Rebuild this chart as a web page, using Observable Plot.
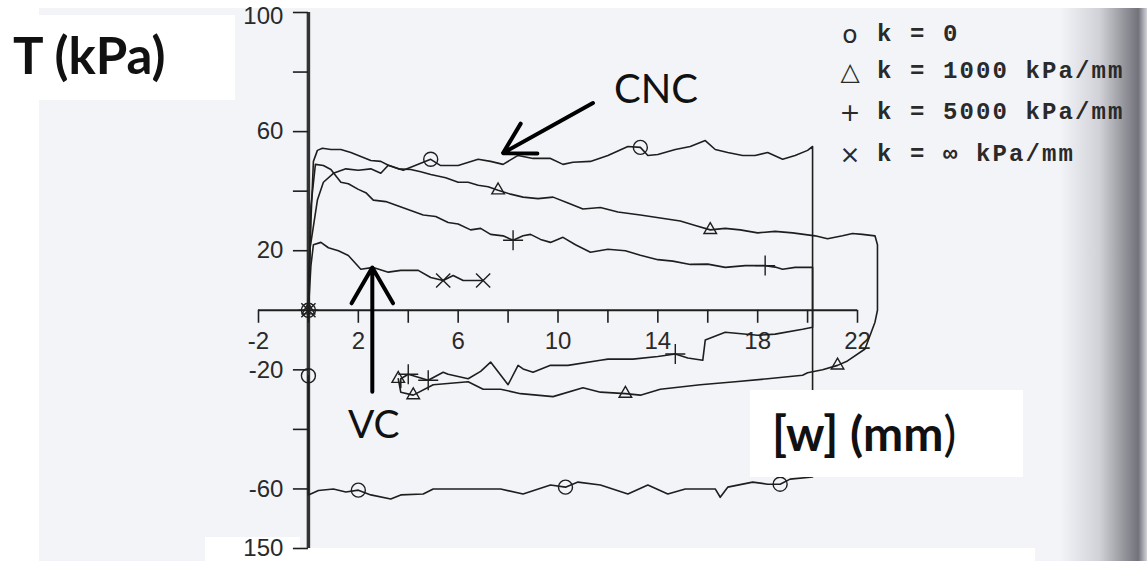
<!DOCTYPE html>
<html><head><meta charset="utf-8">
<script src="https://cdn.jsdelivr.net/npm/d3@7"></script>
<script src="https://cdn.jsdelivr.net/npm/@observablehq/plot@0.6"></script>
<style>
html,body{margin:0;padding:0;background:#fff;}
#wrap{position:relative;width:1147px;height:561px;overflow:hidden;background:#fff;}
.layer{position:absolute;}
.lab{position:absolute;white-space:pre;color:#111;line-height:1;}
.leg{position:absolute;white-space:pre;font-family:"Liberation Mono","DejaVu Sans Mono",monospace;font-weight:bold;font-size:24px;line-height:24px;letter-spacing:2.1px;color:#2a2a2a;}
.sym{position:absolute;font-family:"DejaVu Sans",sans-serif;font-size:25px;line-height:24px;color:#2a2a2a;width:22px;text-align:center;}
</style></head><body>
<div id="wrap">
  <div class="layer" style="left:39px;top:8px;width:1108px;height:553px;background:#f3f4f8"></div>
  <div class="layer" style="left:1060px;top:8px;width:87px;height:553px;background:linear-gradient(to right, rgba(90,90,100,0) 0%, rgba(90,90,100,0.22) 45%, rgba(70,70,80,0.75) 90%, rgba(150,150,160,0.35) 100%)"></div>
  <div class="layer" style="left:205px;top:548px;width:830px;height:13px;background:#fff"></div>
  <div class="layer" style="left:205px;top:537px;width:95px;height:24px;background:#fff"></div>
  <div id="chart" class="layer" style="left:0;top:0"></div>
  <div class="layer" style="left:39px;top:15px;width:196px;height:85px;background:#fff"></div>
  <div class="lab" style="left:13px;top:29px;font-family:Lato,'Open Sans',sans-serif;font-weight:bold;font-size:51px;">T (kPa)</div>
  <div class="layer" style="left:750px;top:390px;width:273px;height:87px;background:#fff"></div>
  <div class="lab" style="left:772px;top:409px;font-family:Lato,'Open Sans',sans-serif;font-weight:bold;font-size:48px;">[w] (mm<span style="font-weight:normal">)</span></div>
  <div class="lab" style="left:614px;top:68px;font-family:Lato,'Open Sans',sans-serif;font-size:40px;">CNC</div>
  <div class="lab" style="left:348px;top:404px;font-family:Lato,'Open Sans',sans-serif;font-size:39px;">VC</div>
  <div id="legend"></div>
</div>
<script>
// ---- data (w in mm, T in kPa) ----
const seriesKeys = ["k = 0", "k = 1000 kPa/mm", "k = 5000 kPa/mm", "k = ∞ kPa/mm"];
const legendSymbols = ["o", "△", "+", "×"];

const curveK0 = [[0,0],[0.05,20],[0.16,26],[0.36,37],[0.6,43],[1.0,46],[1.5,47.5],[2.0,47],[2.5,47.5],[2.9,46],[3.2,48.7],[3.8,47],[4.4,49],[4.9,50.7],[5.3,48.6],[6.0,48.6],[6.8,50.7],[7.3,50],[7.8,49],[8.4,52],[9.0,51],[9.7,51],[10.2,49],[10.6,49.7],[11.3,50],[12.0,52],[12.8,55],[13.3,54.7],[13.6,52],[14.0,52.3],[14.7,54],[15.3,55],[15.9,57],[16.3,54],[16.8,53],[17.4,52],[17.9,52],[18.4,53],[19.0,50.7],[19.5,52],[20.0,53.7],[20.2,55],[20.2,-56],[19.3,-56.7],[18.9,-58.4],[18.4,-58.4],[17.8,-57.7],[16.8,-59.4],[16.5,-62.8],[16.3,-60],[15.1,-60],[14.4,-61.7],[13.6,-58.7],[12.8,-61.7],[11.7,-58.7],[10.8,-57.7],[10.3,-59.4],[9.7,-58.7],[8.6,-61.7],[7.7,-60],[6.0,-60],[5.0,-60],[4.6,-61.7],[3.7,-62],[3.3,-63.4],[2.5,-62],[2.0,-60.4],[1.5,-61],[1.0,-60],[0.4,-60.5],[0,-62],[0,-22]];
const curveK1000 = [[0,0],[0.1,30],[0.2,50],[0.36,53.7],[0.56,54.4],[0.9,54],[1.3,54],[1.7,53],[2.0,52],[2.5,50.3],[2.9,50],[3.2,48.7],[3.6,47.5],[4.1,47.3],[4.5,46.5],[4.9,45.6],[5.5,44.5],[6.0,43],[6.4,43],[6.8,42],[7.2,41.5],[7.6,40.3],[8.1,39],[8.6,38],[9.2,37.5],[9.8,38],[10.4,36],[11.0,34],[11.7,34.5],[12.4,33],[13.3,32],[14.1,31],[14.9,30],[15.5,28.5],[16.1,27],[16.7,27.5],[17.3,27],[18.0,26],[18.7,26.5],[19.4,26],[20.3,25],[20.8,24],[21.4,25],[21.8,25.8],[22.2,25.5],[22.7,25],[22.8,22],[22.8,0],[22.7,-4],[22.3,-13],[21.6,-17],[21.2,-18.5],[20.6,-20],[20.0,-21],[19.8,-21.8],[18.4,-23],[17.1,-24],[15.7,-25],[14.1,-26.5],[13.3,-28.5],[12.7,-28],[11.7,-27.5],[11.0,-26],[9.8,-29],[8.5,-28],[7.7,-26.5],[7.0,-26.5],[6.4,-24],[5.0,-25],[4.2,-28.5],[3.7,-27.5],[3.6,-23]];
const curveK5000 = [[0,0],[0.1,35],[0.28,49],[0.6,48.6],[0.9,47.3],[1.3,43],[1.6,42.5],[2.0,40.6],[2.3,39.5],[2.6,37],[3.1,36.5],[3.6,35],[4.1,33.5],[4.6,32],[5.1,31.5],[5.6,29.5],[6.0,29],[6.5,27],[6.9,27.5],[7.3,25.5],[7.8,25],[8.2,23.5],[8.6,25],[8.9,25.5],[9.3,23.8],[9.7,22.8],[10.2,24.5],[10.7,22],[11.3,19.5],[12.0,20.5],[12.7,20],[13.3,18.5],[14.0,17],[14.6,16.5],[15.3,15.4],[16.0,15.5],[16.7,14.4],[17.5,15],[18.3,15],[18.7,14.5],[19.0,13.8],[19.5,14.4],[20.2,14.4],[20.2,-5.7],[19.8,-6.4],[18.7,-8],[18.0,-8.4],[16.7,-7.4],[15.9,-10],[15.8,-16.8],[15.2,-16],[14.7,-14.7],[14.0,-15.5],[13.0,-16.4],[12.0,-16.4],[11.7,-16.8],[10.4,-18.5],[9.7,-18.5],[9.0,-20.8],[8.6,-19.7],[8.4,-18.5],[8.0,-25],[7.3,-17.4],[6.9,-20.5],[6.4,-23],[5.6,-21.5],[5.4,-20.8],[4.8,-23.5],[4.4,-22.5],[4.0,-21.5],[3.7,-23],[3.7,-26]];
const curveKInf = [[0,0],[0.1,15],[0.2,22],[0.5,22.8],[0.8,21],[1.2,20],[1.6,18.4],[2.1,13.8],[2.6,14.4],[3.2,12.8],[3.7,13.4],[4.4,13.4],[4.9,11],[5.4,10],[5.8,11.7],[6.2,10],[7.0,10]];

const markK0 = [[0,0],[4.9,50.7],[13.3,54.7],[2.0,-60.4],[10.3,-59.4],[18.9,-58.4],[0,-22]];
const markK1000 = [[0,0],[7.6,40.3],[16.1,27],[21.2,-18.5],[12.7,-28],[4.2,-28.5],[3.6,-23]];
const markK5000 = [[0,0],[8.2,23.5],[18.3,15],[14.7,-14.7],[4.0,-21.5],[4.8,-23.5]];
const markKInf = [[0,0],[5.4,10],[7.0,10]];

const xTicks = [-2,0,2,4,6,8,10,12,14,16,18,20,22];
const xTickLabels = ["-2","","2","","6","","10","","14","","18","","22"];
const yTicks = [100,80,60,40,20,-20,-40,-60,-80];
const yTickLabels = ["100","","60","","20","-20","","-60","150"];

// annotation arrows (data units)
const arrowNames = ["CNC","VC"];
const arrowW1 = [11.4, 2.56], arrowT1 = [69.6, -27.4];
const arrowW2 = [7.8, 2.56],  arrowT2 = [52.8, 14.4];

// ---- build ----
const curves = [curveK0, curveK1000, curveK5000, curveKInf];
const marks = [markK0, markK1000, markK5000, markKInf];
const lineRows = curves.flatMap((c, i) => c.map(([w, T]) => ({w, T, k: seriesKeys[i]})));
const markRows = marks.map((m, i) => m.map(([w, T]) => ({w, T, k: seriesKeys[i]})));
const arrows = arrowNames.map((n, i) => ({n, w1: arrowW1[i], t1: arrowT1[i], w2: arrowW2[i], t2: arrowT2[i]}));
const xFmt = new Map(xTicks.map((t, i) => [t, xTickLabels[i]]));
const yFmt = new Map(yTicks.map((t, i) => [t, yTickLabels[i]]));
const yTop = yTicks[0];

const W = 1147, H = 561, mL = 258, mR = 290, mT = 12, mB = 13;
const xDomain = [-2, 22], yDomain = [-80, 100];
const sx = d3.scaleLinear(xDomain, [mL, W - mR]);
const sy = d3.scaleLinear(yDomain, [H - mB, mT]);

const ink = "#1e1e1e";
const axisFont = {fontSize: 24, fontFamily: "'Liberation Sans', Arimo, sans-serif", fill: "#2a2a2a"};

const chart = Plot.plot({
  width: W, height: H,
  marginLeft: mL, marginRight: mR, marginTop: mT, marginBottom: mB,
  x: {domain: xDomain},
  y: {domain: yDomain},
  style: {background: "transparent", overflow: "visible"},
  marks: [
    Plot.ruleY([0], {stroke: ink, strokeWidth: 2}),
    Plot.ruleX([0], {stroke: "#333", strokeWidth: 3.5}),
    Plot.axisX({anchor: "bottom", ticks: xTicks, tickFormat: d => xFmt.get(d), tickSize: 13, tickPadding: 9,
      dy: sy(0) - (H - mB), stroke: ink, strokeWidth: 1.6, ...axisFont, label: null}),
    Plot.axisY({anchor: "left", ticks: yTicks, tickFormat: d => d === yTop ? "" : yFmt.get(d), tickSize: 15, tickPadding: 10,
      dx: sx(0) - mL, stroke: ink, strokeWidth: 1.6, ...axisFont, label: null}),
    Plot.axisY({anchor: "left", ticks: [yTop], tickFormat: d => yFmt.get(d), tickSize: 0, tickPadding: 25,
      dx: sx(0) - mL, dy: 4, ...axisFont, label: null}),
    Plot.line(lineRows, {x: "w", y: "T", z: "k", stroke: ink, strokeWidth: 1.6}),
    Plot.dot(markRows[0], {x: "w", y: "T", symbol: "circle", r: 7, stroke: ink, strokeWidth: 1.4, fill: "none"}),
    Plot.dot(markRows[1], {x: "w", y: "T", symbol: "triangle2", r: 6, stroke: ink, strokeWidth: 1.4, fill: "none"}),
    Plot.dot(markRows[2], {x: "w", y: "T", symbol: "plus", r: 6.5, stroke: ink, strokeWidth: 1.4}),
    Plot.dot(markRows[3], {x: "w", y: "T", symbol: "times", r: 6.5, stroke: ink, strokeWidth: 1.4}),
    Plot.arrow(arrows, {x1: "w1", y1: "t1", x2: "w2", y2: "t2", bend: 0, stroke: "#000", strokeWidth: 4, headLength: 18})
  ]
});
document.getElementById("chart").appendChild(chart);

// legend (text overlay)
const legendTops = [23, 60, 101, 143];
const legend = document.getElementById("legend");
seriesKeys.forEach((k, i) => {
  const s = document.createElement("div");
  s.className = "sym";
  s.style.left = "839px"; s.style.top = legendTops[i] + "px";
  s.textContent = legendSymbols[i];
  legend.appendChild(s);
  const t = document.createElement("div");
  t.className = "leg";
  t.style.left = "877px"; t.style.top = legendTops[i] + "px";
  t.textContent = k;
  legend.appendChild(t);
});
</script>
</body></html>
